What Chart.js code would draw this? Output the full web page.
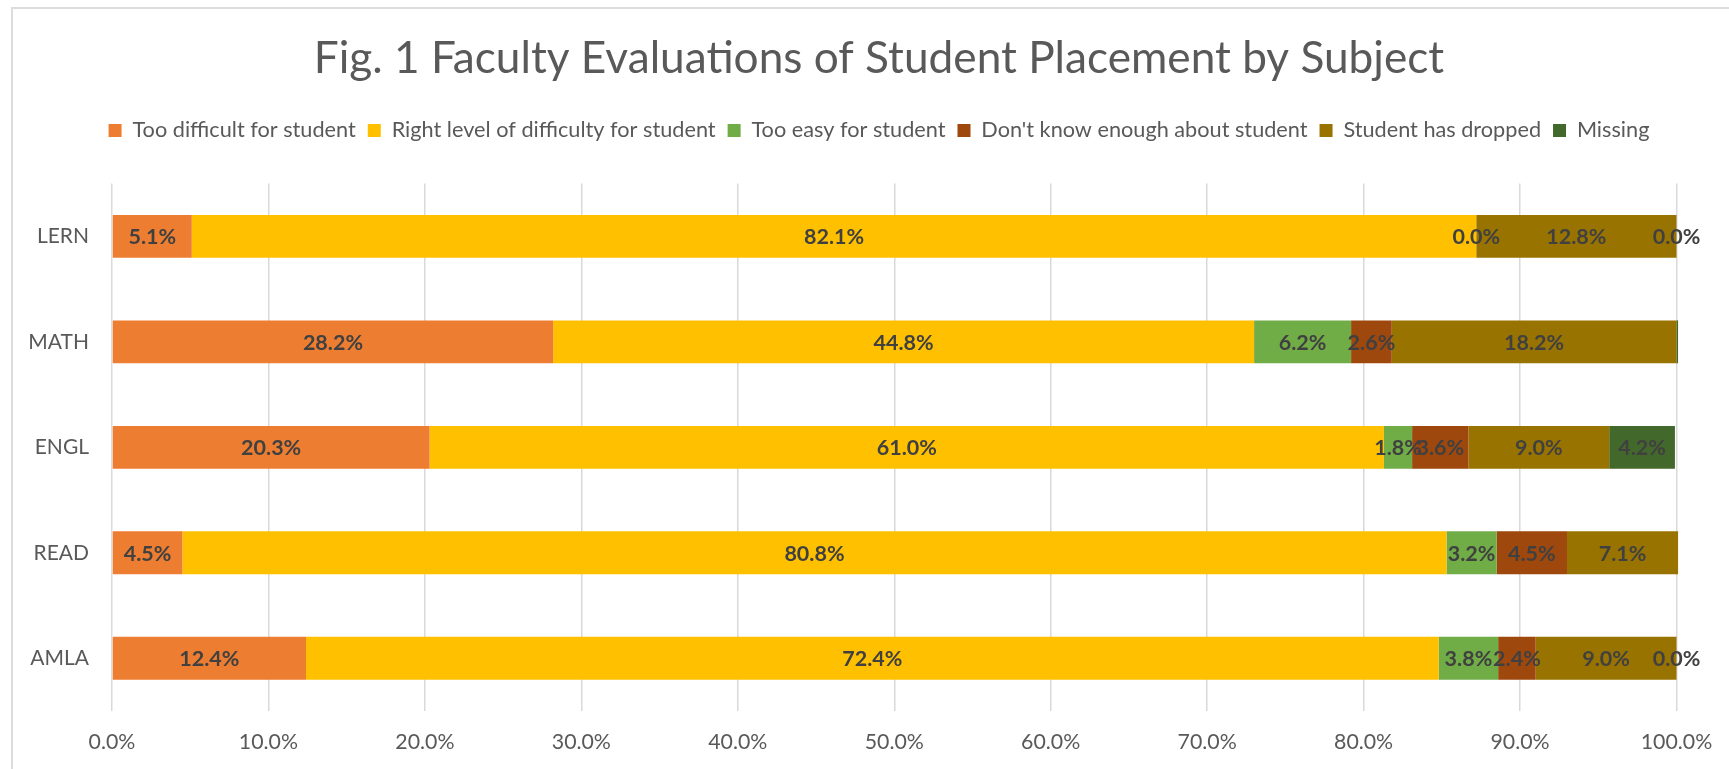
<!DOCTYPE html>
<html><head><meta charset="utf-8">
<script src="https://cdn.jsdelivr.net/npm/chart.js@4.4.1/dist/chart.umd.min.js"></script>
<style>
html,body{margin:0;padding:0;background:#fff;overflow:hidden;width:1729px;height:769px;}
#frame{position:absolute;left:11px;top:7px;width:1800px;height:900px;border-top:2px solid #dcdcdc;border-left:2px solid #dcdcdc;}
#wrap{position:absolute;left:12px;top:9px;width:1734px;height:800px;}
</style></head><body>
<div id="frame"></div>
<div id="wrap"><canvas id="c"></canvas></div>
<script>
const categories = ['LERN', 'MATH', 'ENGL', 'READ', 'AMLA'];
const seriesNames = ['Too difficult for student', 'Right level of difficulty for student', 'Too easy for student', "Don't know enough about student", 'Student has dropped', 'Missing'];
const tooDifficult = [5.1, 28.2, 20.3, 4.5, 12.4];
const rightLevel   = [82.1, 44.8, 61.0, 80.8, 72.4];
const tooEasy      = [0.0, 6.2, 1.8, 3.2, 3.8];
const dontKnow     = [null, 2.6, 3.6, 4.5, 2.4];
const dropped      = [12.8, 18.2, 9.0, 7.1, 9.0];
const missing      = [0.0, 0.1, 4.2, null, 0.0];
const xTickValues  = [0, 10, 20, 30, 40, 50, 60, 70, 80, 90, 100];
const seriesColors = ['#ED7D31', '#FFC000', '#70AD47', '#9E480E', '#997300', '#43682B'];
const seriesValues = [tooDifficult, rightLevel, tooEasy, dontKnow, dropped, missing];

const FONT = 'Lato, "Open Sans", sans-serif';

const segLabels = {
  id: 'segLabels',
  afterDatasetsDraw(chart) {
    const ctx = chart.ctx;
    ctx.save();
    ctx.font = 'bold 21.5px ' + FONT;
    ctx.fillStyle = '#404040';
    ctx.textAlign = 'center';
    ctx.textBaseline = 'middle';
    chart.data.datasets.forEach((ds, i) => {
      const meta = chart.getDatasetMeta(i);
      meta.data.forEach((el, j) => {
        const v = ds.data[j];
        if (v === null || v === undefined) return;
        if (v > 0 && v < 0.5) return;
        const p = el.getProps(['x', 'base', 'y'], true);
        ctx.fillText(v.toFixed(1) + '%', (p.x + p.base) / 2, p.y + 1);
      });
    });
    ctx.restore();
  }
};

new Chart(document.getElementById('c'), {
  type: 'bar',
  data: {
    labels: categories,
    datasets: seriesNames.map((name, i) => ({
      label: name,
      data: seriesValues[i],
      backgroundColor: seriesColors[i],
      borderWidth: 0,
      barPercentage: 0.406,
      categoryPercentage: 1.0,
      clip: false,
      xAxisID: 'x',
      yAxisID: 'y'
    }))
  },
  options: {
    indexAxis: 'y',
    responsive: true,
    maintainAspectRatio: false,
    animation: false,
    layout: { padding: { left: 0, right: 0, top: 0, bottom: 38 } },
    scales: {
      x: {
        stacked: true,
        min: 0, max: 100,
        afterBuildTicks(scale) { scale.ticks = xTickValues.map(v => ({ value: v })); },
        afterFit(scale) { scale.height = 60; },
        ticks: {
          callback: v => Number(v).toFixed(1) + '%',
          color: '#595959',
          font: { family: FONT, size: 21.3 },
          padding: 18.2,
          maxRotation: 0
        },
        grid: { color: '#d9d9d9', lineWidth: 1.5, drawTicks: false, tickLength: 0 },
        border: { display: false }
      },
      y: {
        stacked: true,
        position: 'left',
        afterFit(scale) { scale.width = 100; },
        ticks: {
          color: '#595959',
          font: { family: FONT, size: 21 },
          padding: 23
        },
        grid: { display: false, drawTicks: false, tickLength: 0 },
        border: { display: false }
      },
      yRightSpace: {
        type: 'category',
        labels: categories,
        position: 'right',
        afterFit(scale) { scale.width = 69.5; },
        ticks: { display: false },
        grid: { display: false, drawTicks: false, tickLength: 0 },
        border: { display: false }
      }
    },
    plugins: {
      title: {
        display: true,
        text: 'Fig. 1 Faculty Evaluations of Student Placement by Subject',
        color: '#595959',
        font: { family: FONT, size: 44.2, weight: 400, lineHeight: 1.2 },
        padding: { top: 23.5, bottom: 22.1 }
      },
      subtitle: {
        display: true,
        text: '',
        weight: 500,
        font: { size: 10, lineHeight: 3.225 },
        padding: 0
      },
      legend: {
        display: true,
        position: 'top',
        labels: {
          boxWidth: 13,
          boxHeight: 13,
          padding: 12,
          color: '#595959',
          font: { family: FONT, size: 21.7 }
        }
      },
      tooltip: { enabled: false }
    }
  },
  plugins: [segLabels]
});
</script>
</body></html>
